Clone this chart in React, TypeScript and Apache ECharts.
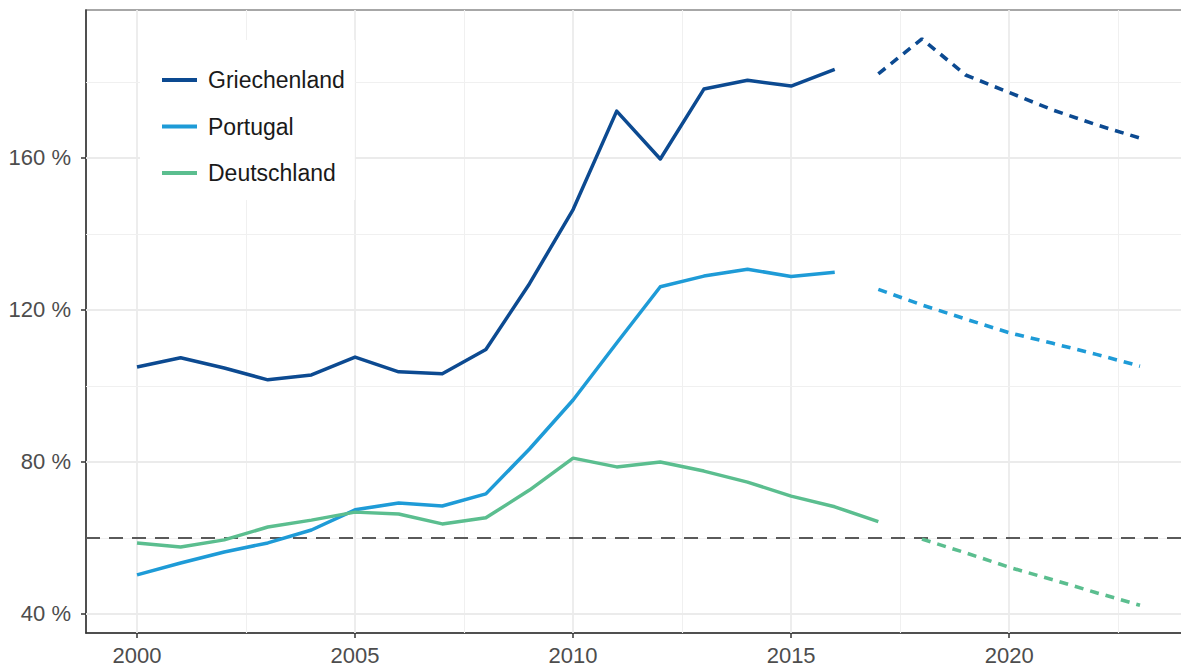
import React, { useEffect, useRef } from "react";
import * as echarts from "echarts";

const histYears = [2000, 2001, 2002, 2003, 2004, 2005, 2006, 2007, 2008, 2009, 2010, 2011, 2012, 2013, 2014, 2015, 2016, 2017];
const greeceHist = [105, 107.4, 104.7, 101.6, 102.9, 107.6, 103.7, 103.2, 109.6, 126.9, 146.4, 172.3, 159.7, 178.1, 180.4, 178.9, 183.3];
const portugalHist = [50.3, 53.4, 56.3, 58.7, 62.1, 67.4, 69.2, 68.4, 71.6, 83.4, 96.3, 111.3, 126.1, 128.9, 130.7, 128.8, 129.9];
const germanyHist = [58.7, 57.6, 59.5, 62.9, 64.7, 66.8, 66.3, 63.7, 65.3, 72.6, 81, 78.7, 80, 77.6, 74.7, 71, 68.2, 64.3];

const forecastYears = [2017, 2018, 2019, 2020, 2021, 2022, 2023];
const greeceForecast = [182.1, 191.3, 181.8, 177.2, 172.6, 168.7, 165.2];
const portugalForecast = [125.4, 121.3, 117.6, 114.0, 111.2, 108.3, 105.2];
const germanyForecastYears = [2018, 2019, 2020, 2021, 2022, 2023];
const germanyForecast = [59.7, 56.1, 52.3, 49.0, 45.6, 42.3];

const seriesNames = ["Griechenland", "Portugal", "Deutschland"];
const seriesColors = ["#0C4A91", "#1E9BD7", "#5BBE8F"];

const xTicks = [2000, 2005, 2010, 2015, 2020];
const xMinorGrid = [2002.5, 2007.5, 2012.5, 2017.5, 2022.5];
const yTicks = [40, 80, 120, 160];
const yMinorGrid = [60, 100, 140, 180];
const referenceLevel = 60;

const FONT = "'Liberation Sans', Arial, sans-serif";

function pairs(xs: number[], ys: number[]) {
  return ys.map((v, i) => [xs[i], v]);
}

export default function App() {
  const ref = useRef<HTMLDivElement>(null);

  useEffect(() => {
    document.body.style.margin = "0";
    document.body.style.overflow = "hidden";
    const chart = echarts.init(ref.current!, null, { renderer: "svg" });

    const gridLines: any[] = [];
    xTicks.forEach((x) => gridLines.push({ xAxis: x, lineStyle: { color: "#EBEBEB", width: 1.8, type: "solid" } }));
    xMinorGrid.forEach((x) => gridLines.push({ xAxis: x, lineStyle: { color: "#F0F0F0", width: 1.1, type: "solid" } }));
    yTicks.forEach((y) => gridLines.push({ yAxis: y, lineStyle: { color: "#EBEBEB", width: 1.8, type: "solid" } }));
    yMinorGrid.forEach((y) => gridLines.push({ yAxis: y, lineStyle: { color: "#F0F0F0", width: 1.1, type: "solid" } }));

    const solid = (name: string, color: string, data: number[][]) => ({
      name,
      type: "line",
      data,
      color,
      symbol: "none",
      z: 3,
      lineStyle: { color, width: 3.5, cap: "butt", join: "round" },
    });
    const dashed = (name: string, color: string, data: number[][]) => ({
      name,
      type: "line",
      data,
      color,
      symbol: "none",
      z: 3,
      lineStyle: { color, width: 3.6, type: [9, 7], cap: "butt" },
    });

    chart.setOption({
      animation: false,
      backgroundColor: "#ffffff",
      grid: {
        left: 86,
        right: 4,
        top: 10,
        bottom: 35,
        show: true,
        borderColor: "#8A8A8A",
        borderWidth: 1.5,
        backgroundColor: "transparent",
      },
      legend: {
        data: seriesNames,
        orient: "vertical",
        left: 140,
        top: 40,
        z: 10,
        padding: [27, 10, 14, 22],
        backgroundColor: "#ffffff",
        icon: "rect",
        itemWidth: 35,
        itemHeight: 4,
        itemGap: 20.5,
        textStyle: { fontSize: 23, color: "#1a1a1a", fontFamily: FONT, lineHeight: 26, padding: [0, 0, 0, 6] },
        selectedMode: false,
      },
      xAxis: {
        type: "value",
        min: 1998.83,
        max: 2024.17,
        axisLine: { show: true, onZero: false, lineStyle: { color: "#333333", width: 1.5 } },
        axisTick: { show: true, length: 5, customValues: xTicks, lineStyle: { color: "#333333", width: 1.5 } },
        axisLabel: {
          customValues: xTicks,
          color: "#4D4D4D",
          fontSize: 22,
          fontFamily: FONT,
          margin: 11,
          formatter: (v: number) => String(v),
        },
        splitLine: { show: false },
      },
      yAxis: {
        type: "value",
        min: 35,
        max: 198.9,
        axisLine: { show: true, onZero: false, lineStyle: { color: "#333333", width: 1.5 } },
        axisTick: { show: true, length: 5, customValues: yTicks, lineStyle: { color: "#333333", width: 1.5 } },
        axisLabel: {
          customValues: yTicks,
          color: "#4D4D4D",
          fontSize: 22,
          fontFamily: FONT,
          margin: 15,
          formatter: (v: number) => v + " %",
        },
        splitLine: { show: false },
      },
      series: [
        {
          name: "grid",
          type: "line",
          data: [[2000, 40]],
          symbol: "none",
          lineStyle: { opacity: 0 },
          z: 1,
          silent: true,
          markLine: {
            silent: true,
            z: 1,
            symbol: ["none", "none"],
            label: { show: false },
            data: gridLines,
          },
        },
        {
          name: "ref",
          type: "line",
          data: [[2000, referenceLevel]],
          symbol: "none",
          lineStyle: { opacity: 0 },
          z: 2,
          silent: true,
          markLine: {
            silent: true,
            z: 2,
            symbol: ["none", "none"],
            label: { show: false },
            lineStyle: { color: "#5A5A5A", width: 2, type: [14, 9] },
            data: [{ yAxis: referenceLevel }],
          },
        },
        solid(seriesNames[0], seriesColors[0], pairs(histYears, greeceHist)),
        solid(seriesNames[1], seriesColors[1], pairs(histYears, portugalHist)),
        solid(seriesNames[2], seriesColors[2], pairs(histYears, germanyHist)),
        dashed("Griechenland Prognose", seriesColors[0], pairs(forecastYears, greeceForecast)),
        dashed("Portugal Prognose", seriesColors[1], pairs(forecastYears, portugalForecast)),
        dashed("Deutschland Prognose", seriesColors[2], pairs(germanyForecastYears, germanyForecast)),
      ],
    });

    return () => chart.dispose();
  }, []);

  return <div ref={ref} style={{ width: 1195, height: 668 }} />;
}
